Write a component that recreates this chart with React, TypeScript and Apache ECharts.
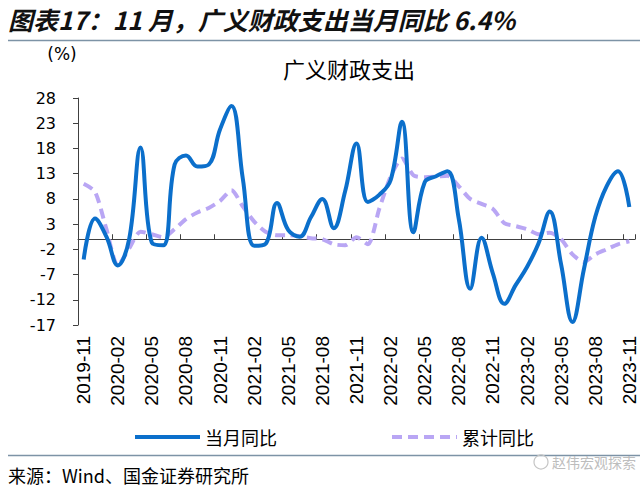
import React, { useEffect, useRef } from 'react';
import * as echarts from 'echarts';

const months = [
  '2019-11', '2019-12', '2020-01', '2020-02', '2020-03', '2020-04', '2020-05', '2020-06',
  '2020-07', '2020-08', '2020-09', '2020-10', '2020-11', '2020-12', '2021-01', '2021-02',
  '2021-03', '2021-04', '2021-05', '2021-06', '2021-07', '2021-08', '2021-09', '2021-10',
  '2021-11', '2021-12', '2022-01', '2022-02', '2022-03', '2022-04', '2022-05', '2022-06',
  '2022-07', '2022-08', '2022-09', '2022-10', '2022-11', '2022-12', '2023-01', '2023-02',
  '2023-03', '2023-04', '2023-05', '2023-06', '2023-07', '2023-08', '2023-09', '2023-10',
  '2023-11',
];

// 当月同比 (%)
const monthlyYoY = [
  -4.0, 4.1, 0.5, -5.2, 0.0, 18.2, -0.7, -1.2,
  14.8, 16.6, 14.4, 14.8, 21.8, 26.4, 12.0, -1.3,
  -0.9, 7.2, 1.8, 0.5, 4.4, 8.0, 2.2, 9.5,
  19.0, 7.4, 8.8, 11.7, 23.3, 1.4, 11.3, 12.5,
  13.5, 4.0, -9.8, 0.3, -6.8, -12.8, -9.1, -5.5,
  -0.9, 5.5, -5.0, -16.4, -6.0, 4.4, 10.5, 13.5,
  6.4,
];

// 累计同比 (%)
const cumulativeYoY = [
  11.0, 9.4, 2.0, -5.2, -1.8, 1.5, 1.0, 0.4,
  2.0, 4.0, 5.3, 6.2, 7.6, 9.7, 6.5, 3.5,
  1.5, 0.8, 0.8, 0.6, 0.2, 0.0, -1.0, -1.2,
  0.4, -1.0, 6.0, 12.4, 16.0, 12.7, 12.3, 12.4,
  12.6, 10.5, 8.0, 7.0, 6.0, 3.2, 2.6, 2.0,
  1.0, 1.3, 0.0, -3.0, -4.5, -3.0, -2.0, -1.0,
  -0.4,
];

const yMin = -17;
const yMax = 28;
const yInterval = 5;

const seriesNames = ['当月同比', '累计同比'];
const headerText = '图表17：11 月，广义财政支出当月同比 6.4%';
const chartTitle = '广义财政支出';
const unitText = '(%)';
const sourceText = '来源：Wind、国金证券研究所';
const watermarkText = '赵伟宏观探索';

const BLUE = '#0B6FCB';
const PURPLE = '#B9A6F4';
const AXIS = '#404040';
const CJK = '"Noto Sans CJK SC", sans-serif';

export default function App() {
  const ref = useRef<HTMLDivElement>(null);

  useEffect(() => {
    document.body.style.margin = '0';
    const chart = echarts.init(ref.current!, null, { renderer: 'svg' });
    chart.setOption({
      animation: false,
      backgroundColor: '#fff',
      grid: { left: 78, top: 98, width: 557, height: 227, containLabel: false },
      legend: {
        data: seriesNames,
        left: 128,
        top: 423,
        itemWidth: 65,
        itemHeight: 14,
        itemGap: 113,
        itemStyle: { opacity: 0 },
        lineStyle: { width: 4 },
        textStyle: { fontSize: 18, fontFamily: CJK, color: '#000' },
      },
      xAxis: [
        {
          type: 'category',
          data: months,
          boundaryGap: true,
          position: 'bottom',
          axisLine: { show: false, onZero: false },
          axisTick: { show: false },
          axisLabel: {
            interval: 2,
            rotate: 90,
            margin: 11,
            fontSize: 19,
            fontFamily: '"Liberation Sans", Arial, sans-serif',
            color: '#000',
          },
          splitLine: { show: false },
        },
        {
          type: 'category',
          data: months,
          boundaryGap: true,
          position: 'bottom',
          axisLine: { show: true, onZero: true, lineStyle: { color: AXIS, width: 1 } },
          axisTick: { show: true, inside: true, length: 5, interval: 2, lineStyle: { color: AXIS } },
          axisLabel: { show: false },
          splitLine: { show: false },
        },
      ],
      yAxis: {
        type: 'value',
        min: yMin,
        max: yMax,
        interval: yInterval,
        axisLine: { show: true, lineStyle: { color: AXIS, width: 1 } },
        axisTick: { show: true, inside: false, length: 5, lineStyle: { color: AXIS } },
        axisLabel: {
          margin: 22,
          fontSize: 16,
          fontFamily: '"DejaVu Sans", sans-serif',
          color: '#000',
        },
        splitLine: { show: false },
      },
      series: [
        {
          name: seriesNames[0],
          type: 'line',
          data: monthlyYoY,
          smooth: 0.4,
          symbol: 'none',
          lineStyle: { color: BLUE, width: 4 },
          itemStyle: { color: BLUE },
          z: 3,
        },
        {
          name: seriesNames[1],
          type: 'line',
          data: cumulativeYoY,
          smooth: 0.25,
          symbol: 'none',
          lineStyle: { color: PURPLE, width: 4, type: [10, 6] },
          itemStyle: { color: PURPLE },
          z: 2,
        },
      ],
      graphic: [
        {
          type: 'text',
          x: 8,
          y: 19,
          style: {
            text: headerText,
            fontSize: 25,
            fontWeight: 'bold',
            fontStyle: 'italic',
            fontFamily: CJK,
            fill: '#111',
            align: 'left',
            verticalAlign: 'middle',
          },
        },
        {
          type: 'line',
          shape: { x1: 8, y1: 40.5, x2: 640, y2: 40.5 },
          style: { stroke: '#7d93a6', lineWidth: 1.5 },
        },
        {
          type: 'text',
          x: 62,
          y: 54,
          style: {
            text: unitText,
            fontSize: 17,
            fontFamily: '"DejaVu Sans", sans-serif',
            fill: '#000',
            align: 'center',
            verticalAlign: 'middle',
          },
        },
        {
          type: 'text',
          x: 349,
          y: 68,
          style: {
            text: chartTitle,
            fontSize: 22,
            fontFamily: CJK,
            fill: '#000',
            align: 'center',
            verticalAlign: 'middle',
          },
        },
        {
          type: 'line',
          shape: { x1: 8, y1: 455.5, x2: 640, y2: 455.5 },
          style: { stroke: '#7d93a6', lineWidth: 1.5 },
        },
        {
          type: 'text',
          x: 8,
          y: 475,
          style: {
            text: sourceText,
            fontSize: 18,
            fontFamily: CJK,
            fill: '#000',
            align: 'left',
            verticalAlign: 'middle',
          },
        },
        {
          type: 'circle',
          shape: { cx: 541, cy: 462, r: 7 },
          style: { fill: 'none', stroke: '#c4c4c4', lineWidth: 1.2 },
        },
        {
          type: 'text',
          x: 552,
          y: 462,
          style: {
            text: watermarkText,
            fontSize: 14,
            fontFamily: CJK,
            fill: '#bdbdbd',
            align: 'left',
            verticalAlign: 'middle',
          },
        },
      ],
    });
    return () => chart.dispose();
  }, []);

  return (
    <div
      ref={ref}
      style={{ position: 'absolute', left: 0, top: 0, width: 640, height: 492, background: '#fff' }}
    />
  );
}
